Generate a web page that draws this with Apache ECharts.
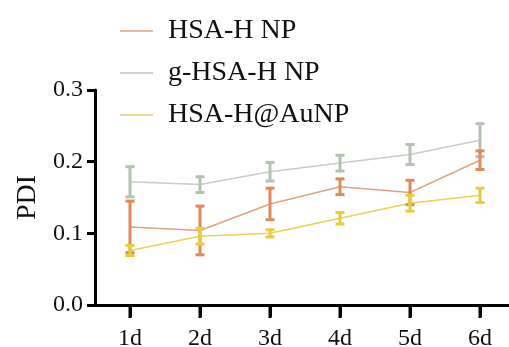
<!DOCTYPE html>
<html><head><meta charset="utf-8">
<script src="https://cdn.jsdelivr.net/npm/echarts@6/dist/echarts.min.js"></script>
<style>html,body{margin:0;padding:0;background:#fff}#c{width:509px;height:347px}</style>
</head><body><div id="c"></div>
<script>
const categories = ['1d','2d','3d','4d','5d','6d'];
const seriesNames = ['HSA-H NP','g-HSA-H NP','HSA-H@AuNP'];
const hsaH = [0.109,0.104,0.141,0.165,0.157,0.202];
const hsaHErr = [0.036,0.034,0.022,0.011,0.017,0.013];
const gHsaH = [0.172,0.168,0.186,0.198,0.210,0.230];
const gHsaHErr = [0.021,0.011,0.013,0.011,0.014,0.023];
const hsaAu = [0.076,0.096,0.100,0.121,0.142,0.153];
const hsaAuErr = [0.007,0.011,0.005,0.008,0.011,0.010];
const yTicks = [0.0,0.1,0.2,0.3];

const lineColors = ['#E3A282','#C9CCC9','#EDD058'];
const barColors = ['#DE8A5C','#B3C2B1','#EACB3C'];
const legendColors = ['#E6B9A0','#CCD2D2','#EEDB8F'];
const FONT = 'Liberation Serif';

function errSeries(name, vals, errs, color){
  return {
    type:'custom', name:name+' err', z:5, silent:true,
    data: vals.map((v,i)=>[i, v-errs[i], v+errs[i]]),
    renderItem: function(params, api){
      const lo = api.coord([api.value(0), api.value(1)]);
      const hi = api.coord([api.value(0), api.value(2)]);
      const hw = 4.5;
      const st = {stroke:color, lineWidth:3};
      return {type:'group', children:[
        {type:'line', shape:{x1:lo[0],y1:lo[1],x2:hi[0],y2:hi[1]}, style:st},
        {type:'line', shape:{x1:lo[0]-hw,y1:lo[1],x2:lo[0]+hw,y2:lo[1]}, style:st},
        {type:'line', shape:{x1:hi[0]-hw,y1:hi[1],x2:hi[0]+hw,y2:hi[1]}, style:st}
      ]};
    }
  };
}
function lineSeries(name, vals, color){
  return {type:'line', name:name, data:vals, showSymbol:false, symbol:'none', z:3,
    lineStyle:{color:color, width:1.5}, itemStyle:{color:color}, animation:false};
}

const chart = echarts.init(document.getElementById('c'), null, {renderer:'canvas'});
chart.setOption({
  animation:false,
  backgroundColor:'#fff',
  legend:{
    orient:'vertical', left:115, top:12, itemGap:14, itemWidth:33, itemHeight:2, icon:'rect',
    textStyle:{fontFamily:FONT, fontSize:28, color:'#111', padding:[0,0,0,10]},
    data: seriesNames.map((n,i)=>({name:n, itemStyle:{color:legendColors[i]}}))
  },
  grid:{left:95, top:90, bottom:42, right:-6, outerBoundsMode:'none', containLabel:false},
  xAxis:{
    type:'category', data:categories, boundaryGap:true,
    axisLine:{show:true, onZero:false, lineStyle:{color:'#000', width:3}},
    axisTick:{show:true, alignWithLabel:true, length:12, lineStyle:{color:'#000', width:3}},
    axisLabel:{fontFamily:FONT, fontSize:24, color:'#111', margin:22}
  },
  yAxis:{
    type:'value', min:0, max:0.3, interval:0.1,
    name:'PDI', nameLocation:'middle', nameGap:53, nameRotate:90,
    nameTextStyle:{fontFamily:FONT, fontSize:28, color:'#111'},
    axisLine:{show:true, onZero:false, lineStyle:{color:'#000', width:3}},
    axisTick:{show:true, length:8, lineStyle:{color:'#000', width:3}},
    splitLine:{show:false},
    axisLabel:{fontFamily:FONT, fontSize:24, color:'#111', margin:12,
      formatter:v=>yTicks.find(t=>Math.abs(t-v)<1e-9)!==undefined ? v.toFixed(1) : ''}
  },
  series:[
    lineSeries(seriesNames[0], hsaH, lineColors[0]),
    lineSeries(seriesNames[1], gHsaH, lineColors[1]),
    lineSeries(seriesNames[2], hsaAu, lineColors[2]),
    errSeries(seriesNames[1], gHsaH, gHsaHErr, barColors[1]),
    errSeries(seriesNames[0], hsaH, hsaHErr, barColors[0]),
    errSeries(seriesNames[2], hsaAu, hsaAuErr, barColors[2])
  ]
});
// x-axis tick marks at category centres, positioned through the axis scale
const tickPts = categories.map((c,i)=>chart.convertToPixel({xAxisIndex:0, yAxisIndex:0}, [i, 0]));
const tickGraphics = tickPts.map(p=>({type:'rect', z:100, silent:true,
    shape:{x:p[0]-1.5, y:p[1]+1, width:3, height:12},
    style:{fill:'#000'}}));
chart.setOption({graphic: tickGraphics});
</script></body></html>
